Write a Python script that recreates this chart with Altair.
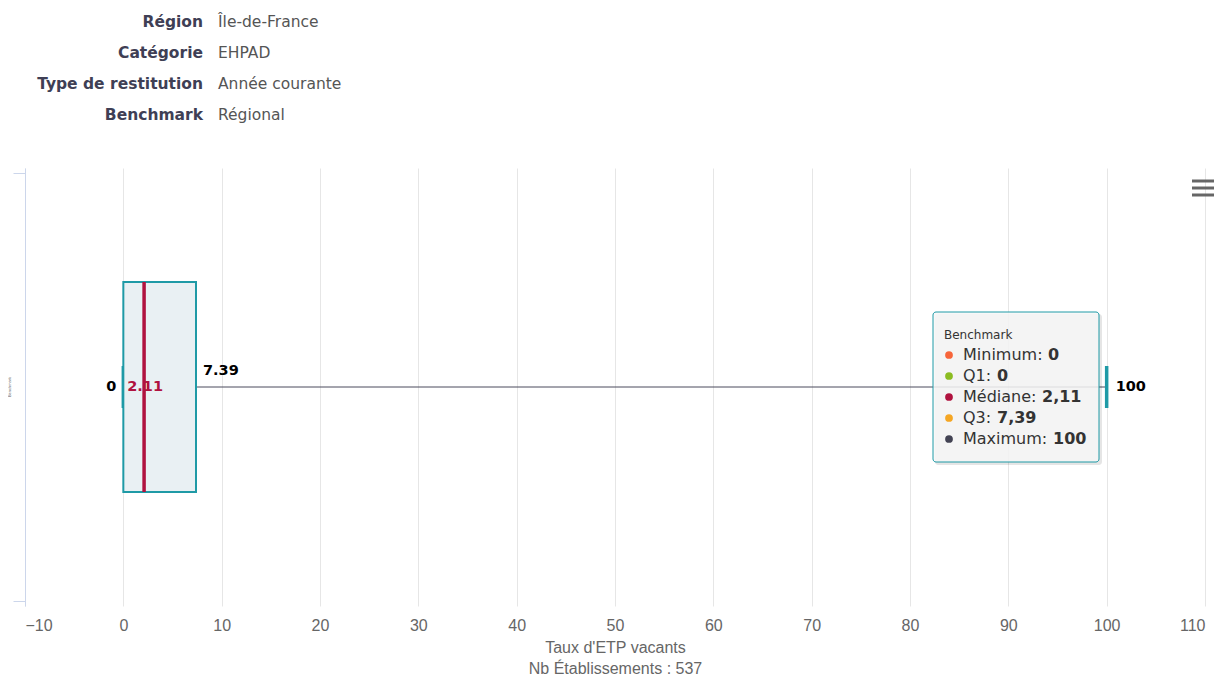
import altair as alt
import pandas as pd

# ---------------- data ----------------
header_labels = ["Région", "Catégorie", "Type de restitution", "Benchmark"]
header_values = ["Île-de-France", "EHPAD", "Année courante", "Régional"]

category = "Benchmark"
stat_names = ["Minimum", "Q1", "Médiane", "Q3", "Maximum"]
stat_values = [0, 0, 2.11, 7.39, 100]
stat_colors = ["#f7653a", "#8bbc21", "#b0123f", "#f5a623", "#434353"]

x_ticks = list(range(-10, 111, 10))
x_title = ["Taux d'ETP vacants", "Nb Établissements : 537"]

# ---------------- layout / style ----------------
W, H = 1180, 438
TOP = 160
TEAL = "#1f9aa6"
CRIMSON = "#b0123f"
AXIS_FONT = "Liberation Sans, Arial, sans-serif"
MAIN_FONT = "DejaVu Sans"
tip_value_dx = [85, 34, 79, 34, 90]   # pixel offsets of bold values after the labels

mn, q1, med, q3, mx = stat_values

box_df = pd.DataFrame({"cat": [category], "pos": [0], "min": [mn], "q1": [q1],
                       "median": [med], "q3": [q3], "max": [mx]})
caps_df = pd.DataFrame({"pos": [0, 0], "v": [mn, mx]})


def fmt(v):
    return f"{v:g}"


def X(field):
    return alt.X(field, type="quantitative",
                 scale=alt.Scale(domain=[-10, 110], nice=False, zero=False),
                 axis=alt.Axis(values=x_ticks, grid=True, gridColor="#e6e6e6",
                               domain=False, ticks=False, labelFont=AXIS_FONT,
                               labelFontSize=16, labelColor="#666666", labelPadding=11,
                               title=x_title, titleFont=AXIS_FONT, titleFontSize=16,
                               titleFontWeight="normal", titleColor="#666666",
                               titleLineHeight=21, titlePadding=6))


def Y():
    return alt.Y("pos:Q", scale=alt.Scale(domain=[-1, 1], nice=False),
                 axis=alt.Axis(values=[-1, 1], labels=False, tickSize=12,
                               tickColor="#ccd6eb", domainColor="#ccd6eb",
                               grid=False, title=None))


base = alt.Chart(box_df)

whisker = base.mark_rule(color="#4a4a5c", strokeWidth=1).encode(x=X("q3"), x2="max", y=Y())
caps = alt.Chart(caps_df).mark_tick(orient="vertical", size=42, thickness=3.5, color=TEAL,
                                    opacity=1).encode(x=X("v"), y=Y())
box = base.mark_bar(size=210, fill="#e9f0f3", stroke=TEAL, strokeWidth=2,
                    orient="horizontal").encode(x=X("q1"), x2="q3", y=Y())
median = base.mark_tick(orient="vertical", size=210, thickness=3.5, color=CRIMSON,
                        opacity=1).encode(x=X("median"), y=Y())

lab_min = base.transform_calculate(t=f"'{fmt(mn)}'").mark_text(
    align="right", dx=-7, baseline="middle", font=MAIN_FONT, fontSize=14.5,
    fontWeight="bold", color="#000000").encode(x=X("min"), y=Y(), text="t:N")
lab_med = base.transform_calculate(t=f"'{fmt(med)}'").mark_text(
    align="center", dx=1, baseline="middle", font=MAIN_FONT, fontSize=14.5,
    fontWeight="bold", color=CRIMSON).encode(x=X("median"), y=Y(), text="t:N")
lab_q3 = base.transform_calculate(t=f"'{fmt(q3)}'").mark_text(
    align="left", dx=7, dy=-16, baseline="middle", font=MAIN_FONT, fontSize=14.5,
    fontWeight="bold", color="#000000").encode(x=X("q3"), y=Y(), text="t:N")
lab_max = base.transform_calculate(t=f"'{fmt(mx)}'").mark_text(
    align="left", dx=9, baseline="middle", font=MAIN_FONT, fontSize=14.5,
    fontWeight="bold", color="#000000").encode(x=X("max"), y=Y(), text="t:N")

main = alt.layer(whisker, caps, box, median, lab_min, lab_med, lab_q3, lab_max)

# ---------------- header ----------------
header_df = pd.DataFrame({"row": list(range(len(header_labels))),
                          "label": header_labels, "value": header_values})
hy = alt.Y("row:O", scale=alt.Scale(type="point",
                                     range=[22 - 8 - TOP, 115 - 8 - TOP], padding=0),
           axis=None)
h_lab = alt.Chart(header_df).mark_text(align="right", baseline="middle", font=MAIN_FONT,
                                       fontSize=15.5, fontWeight="bold",
                                       color="#3f3f55").encode(
    x=alt.value(178), y=hy, text="label:N")
h_val = alt.Chart(header_df).mark_text(align="left", baseline="middle", font=MAIN_FONT,
                                       fontSize=15.5, color="#555555").encode(
    x=alt.value(193), y=hy, text="value:N")
header = alt.layer(h_lab, h_val)

# ---------------- tooltip ----------------
one = pd.DataFrame({"a": [0]})
cy = H / 2
tip_shadow = alt.Chart(one).mark_rect(fill="#000000", opacity=0.10, cornerRadius=3).encode(
    x=alt.value(910), x2=alt.value(1077), y=alt.value(cy - 73), y2=alt.value(cy + 78))
tip_box = alt.Chart(one).mark_rect(fill="#f7f7f7", fillOpacity=0.85, stroke=TEAL,
                                   strokeWidth=1, cornerRadius=3).encode(
    x=alt.value(908), x2=alt.value(1074), y=alt.value(cy - 75), y2=alt.value(cy + 75))
tip_title = alt.Chart(one).transform_calculate(t=f"'{category}'").mark_text(
    align="left", baseline="middle", font=MAIN_FONT, fontSize=12, color="#333333").encode(
    x=alt.value(919), y=alt.value(cy - 52), text="t:N")

tip_df = pd.DataFrame({
    "trow": list(range(len(stat_names))),
    "name": [n + ": " for n in stat_names],
    "val": [fmt(v).replace(".", ",") for v in stat_values],
    "color": stat_colors,
    "vx": [938 + d for d in tip_value_dx],
})
ty = alt.Y("trow:O", scale=alt.Scale(type="point", range=[cy - 32, cy + 52], padding=0),
           axis=None)
tip_dots = alt.Chart(tip_df).mark_circle(size=60, opacity=1).encode(
    x=alt.value(924), y=ty, color=alt.Color("color:N", scale=None))
tip_names = alt.Chart(tip_df).mark_text(align="left", baseline="middle", font=MAIN_FONT,
                                        fontSize=16, color="#333333").encode(
    x=alt.value(938), y=ty, text="name:N")
tip_vals = alt.Chart(tip_df).mark_text(align="left", baseline="middle", font=MAIN_FONT,
                                       fontSize=16, fontWeight="bold",
                                       color="#333333").encode(
    x=alt.X("vx:Q", scale=None, axis=None), y=ty, text="val:N")
tooltip = alt.layer(tip_shadow, tip_box, tip_title, tip_dots, tip_names, tip_vals)

# ---------------- menu icon & tiny category label ----------------
menu = [alt.Chart(one).mark_rule(color="#666666", strokeWidth=3).encode(
    x=alt.value(1167), x2=alt.value(1189), y=alt.value(yy)) for yy in (13, 20, 27)]
cat_label = alt.Chart(one).transform_calculate(t=f"'{category}'").mark_text(
    angle=270, fontSize=4, color="#666666", baseline="middle").encode(
    x=alt.value(-15), y=alt.value(cy), text="t:N")

chart = alt.layer(main, header, tooltip, *menu, cat_label).resolve_scale(
    x="independent", y="independent"
).properties(
    width=W, height=H,
    padding={"left": 17, "top": TOP, "right": 12, "bottom": 76},
    autosize=alt.AutoSizeParams(type="none"),
).configure_view(stroke=None)

chart.save("out.html", embed_options={"renderer": "svg", "actions": False})
